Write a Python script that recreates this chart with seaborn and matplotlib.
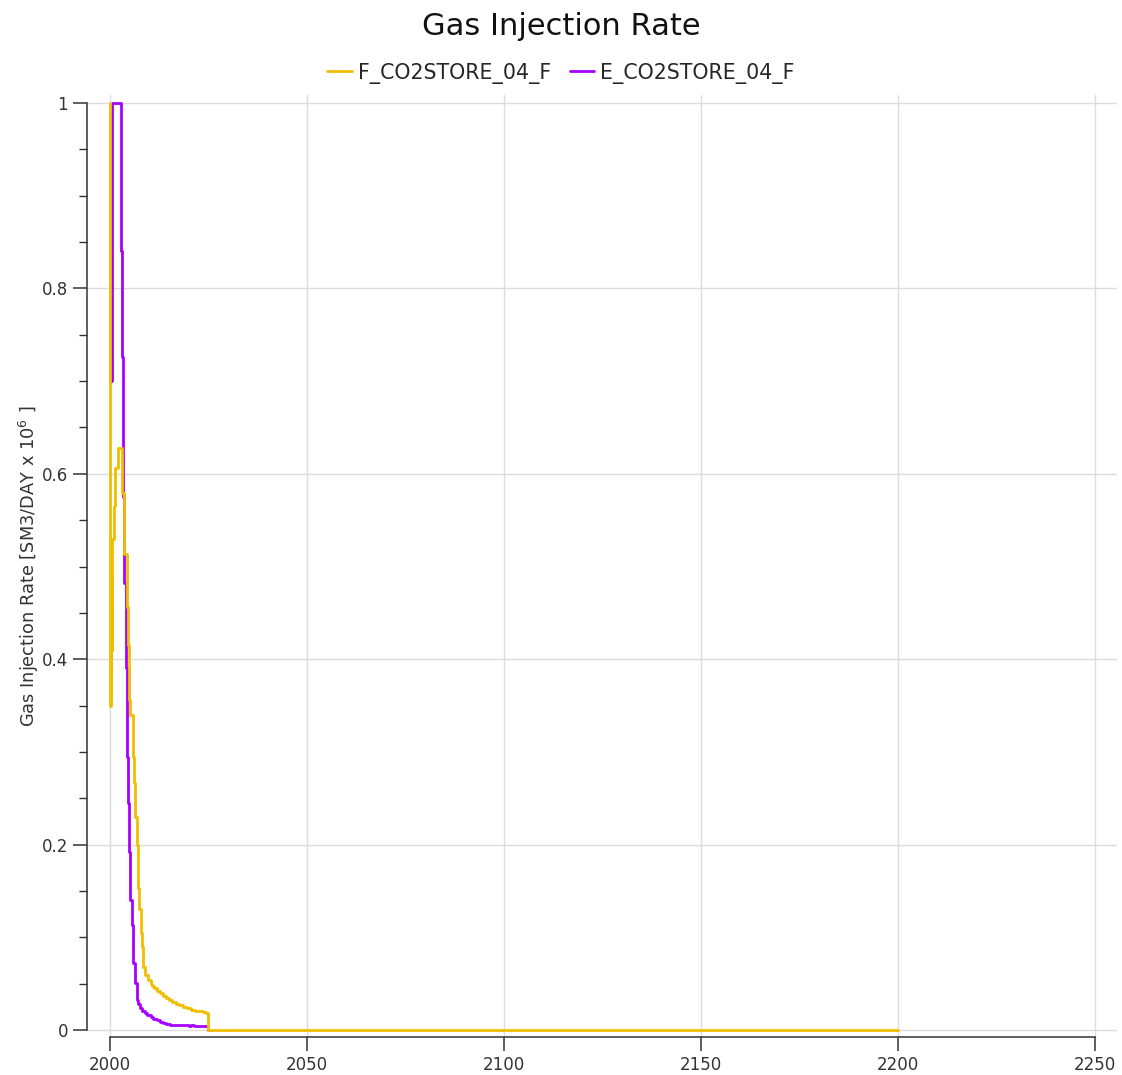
import numpy as np
import pandas as pd
import matplotlib
matplotlib.use("Agg")
import matplotlib.pyplot as plt
import seaborn as sns

# Gas injection rate per well, [SM3/DAY x 1e6], step values starting at each date (decimal years)
f_years = [2000.00, 2000.08, 2000.18, 2000.28, 2000.38, 2000.48, 2000.58, 2001.00,
           2001.35, 2001.95, 2002.95, 2003.60, 2004.20, 2004.60, 2004.90, 2005.05,
           2005.76, 2006.10, 2006.35, 2006.78, 2007.03, 2007.36, 2007.79, 2008.20,
           2008.45, 2008.88, 2009.70, 2010.30, 2010.60, 2011.20, 2011.90, 2012.60,
           2013.40, 2014.20, 2015.00, 2015.80, 2016.70, 2017.60, 2018.50, 2019.50,
           2020.50, 2021.50, 2022.50, 2023.50, 2024.30, 2025.00, 2200.00]
f_rate = [1.000, 0.350, 0.500, 0.360, 0.490, 0.410, 0.530, 0.565,
          0.606, 0.628, 0.579, 0.514, 0.456, 0.415, 0.356, 0.340,
          0.295, 0.266, 0.230, 0.200, 0.153, 0.130, 0.105, 0.090,
          0.068, 0.059, 0.054, 0.050, 0.047, 0.045, 0.042, 0.040,
          0.037, 0.035, 0.032, 0.030, 0.028, 0.027, 0.025, 0.024,
          0.022, 0.021, 0.020, 0.019, 0.018, 0.000, 0.000]

e_years = [2000.25, 2000.45, 2000.60, 2002.72, 2003.12, 2003.35, 2003.60, 2003.95,
           2004.20, 2004.55, 2004.80, 2005.15, 2005.60, 2005.90, 2006.35, 2006.80,
           2007.20, 2007.60, 2008.20, 2008.80, 2009.50, 2010.30, 2011.00, 2011.90,
           2012.70, 2013.50, 2014.30, 2015.20, 2020.00, 2020.60, 2021.20, 2025.00]
e_rate = [0.700, 0.930, 1.000, 0.840, 0.726, 0.575, 0.482, 0.390,
          0.295, 0.245, 0.192, 0.140, 0.113, 0.072, 0.051, 0.032,
          0.028, 0.024, 0.021, 0.018, 0.016, 0.014, 0.012, 0.011,
          0.009, 0.008, 0.006, 0.005, 0.0045, 0.0058, 0.004, 0.000]

wells = ["F_CO2STORE_04_F", "E_CO2STORE_04_F"]
colors = ["#F0BE00", "#A800FF"]

df = pd.concat([
    pd.DataFrame({"year": f_years, "rate": f_rate, "well": wells[0]}),
    pd.DataFrame({"year": e_years, "rate": e_rate, "well": wells[1]}),
], ignore_index=True)

sns.set_theme(style="ticks")
plt.rcParams["font.family"] = ["DejaVu Sans"]

fig = plt.figure(figsize=(11.22, 10.75), dpi=100)
ax = fig.add_axes([0.0775, 0.0353, 0.918, 0.8763])

sns.lineplot(data=df, x="year", y="rate", hue="well", hue_order=wells,
             palette=dict(zip(wells, colors)), estimator=None, sort=False,
             drawstyle="steps-post", linewidth=2.0, ax=ax, legend=False)
ax.lines[0].set_zorder(3)
ax.lines[1].set_zorder(2)

ax.set_xlim(1994.15, 2255.6)
ax.set_ylim(-0.0076, 1.0086)
ax.set_xticks([2000, 2050, 2100, 2150, 2200, 2250])
ax.set_yticks([0, 0.2, 0.4, 0.6, 0.8, 1.0])
ax.set_yticklabels(["0", "0.2", "0.4", "0.6", "0.8", "1"])
ax.set_yticks(np.arange(0, 1.0001, 0.05), minor=True)

ax.grid(True, which="major", color="#dcdcdc", linewidth=1.0)
ax.set_axisbelow(True)
ax.tick_params(axis="both", which="major", length=10, width=1.1,
               color="#333333", labelsize=12, labelcolor="#333333")
ax.tick_params(axis="y", which="minor", length=6, width=1.0, color="#333333")
sns.despine(ax=ax, trim=True)
for s in ("left", "bottom"):
    ax.spines[s].set_color("#333333")
    ax.spines[s].set_linewidth(1.1)
ax.spines["left"].set_bounds(0, 1)
ax.spines["bottom"].set_bounds(2000, 2250)

ax.set_xlabel("")
ax.set_ylabel("Gas Injection Rate [SM3/DAY x 10$^{6}$ ]", fontsize=12.8,
              color="#333333", labelpad=0.5)

fig.suptitle("Gas Injection Rate", fontsize=22, y=0.989, va="top", color="#111111")

handles = [plt.Line2D([], [], color=c, linewidth=2.0) for c in colors]
fig.legend(handles, wells, loc="center", bbox_to_anchor=(0.5, 0.932), ncol=2,
           frameon=False, fontsize=14.8, handlelength=1.2, handletextpad=0.3,
           columnspacing=0.9)

fig.savefig("out.png", dpi=100)
